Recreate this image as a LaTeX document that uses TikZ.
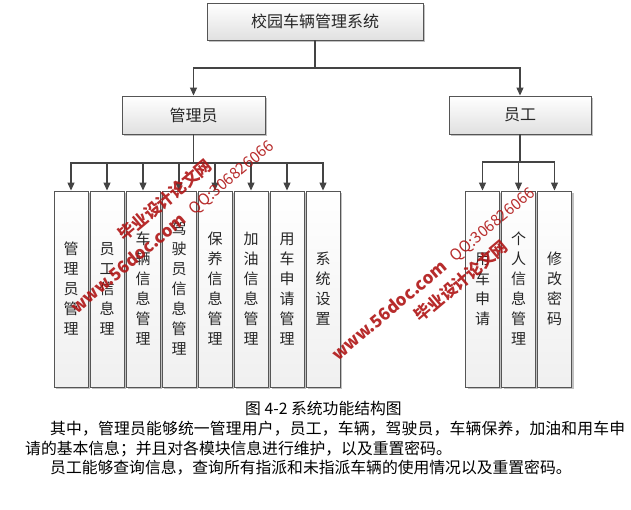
\documentclass[tikz,border=0pt]{standalone}
\usepackage{fontspec}
\setmainfont{Noto Sans CJK SC}
\usetikzlibrary{shadows,arrows.meta}
\definecolor{boxline}{HTML}{555555}
\definecolor{linecol}{HTML}{444444}
\definecolor{wmred}{RGB}{176,22,22}
\def\sprd#1{#1\sprdnext}
\def\sprdnext#1{\ifx#1\relax\else\hfil#1\expandafter\sprdnext\fi}
\tikzset{
  box/.style={draw=boxline, line width=0.9pt, top color=white, bottom color=black!12,
    drop shadow={shadow xshift=2pt, shadow yshift=-2pt, fill=black!40, opacity=0.6},
    inner sep=0pt, text=black!85},
  headbox/.style={box, minimum height=38pt, font=\fontsize{16}{16}\selectfont},
  tallbox/.style={box, top color=white, bottom color=black!6, minimum width=34pt, minimum height=196pt, align=center,
    font=\fontsize{15}{20}\selectfont},
  conn/.style={draw=linecol, line width=1.1pt},
  arr/.style={conn, -{Triangle[length=8pt,width=7pt]}},
  para/.style={anchor=base west, inner sep=0pt, font=\fontsize{15.8}{16}\selectfont, text=black},
  wm/.style={inner sep=0pt, text=wmred, text opacity=0.9, rotate=40, font=\bfseries\fontsize{16.5}{17}\selectfont}
}
\begin{document}
\begin{tikzpicture}[x=1pt,y=-1pt]
\useasboundingbox (0,0) rectangle (631,509);
\fill[white] (0,0) rectangle (631,509);

% top level
\node[headbox, minimum width=216pt, minimum height=37pt] (sys) at (315,21.5) {校园车辆管理系统};
\node[headbox, minimum width=143pt] (adm) at (193.5,115) {管理员};
\node[headbox, minimum width=142pt] (emp) at (520,115) {员工};

% administrator modules
\node[tallbox] (a1) at (71,289)  {管\\理\\员\\管\\理};
\node[tallbox] (a2) at (107,289) {员\\工\\信\\息\\理};
\node[tallbox] (a3) at (143,289) {车\\辆\\信\\息\\管\\理};
\node[tallbox] (a4) at (179,289) {驾\\驶\\员\\信\\息\\管\\理};
\node[tallbox] (a5) at (215,289) {保\\养\\信\\息\\管\\理};
\node[tallbox] (a6) at (251,289) {加\\油\\信\\息\\管\\理};
\node[tallbox] (a7) at (287,289) {用\\车\\申\\请\\管\\理};
\node[tallbox] (a8) at (323,289) {系\\统\\设\\置};

% employee modules
\node[tallbox] (e1) at (482.5,289) {用\\车\\申\\请};
\node[tallbox] (e2) at (518.5,289) {个\\人\\信\\息\\管\\理};
\node[tallbox] (e3) at (554.5,289) {修\\改\\密\\码};

% connectors
\coordinate (j0) at (315,68);
\draw[conn] (sys.south) -- (j0);
\draw[arr] (j0) -| (adm.north);
\draw[arr] (j0) -| (emp.north);

\coordinate (j1) at (193.5,163);
\draw[conn] (adm.south) -- (j1);
\foreach \n in {a1,a2,a3,a4,a5,a6,a7,a8} \draw[arr] (j1) -| (\n.north);

\coordinate (j2) at (520,162);
\draw[conn] (emp.south) -- (j2);
\foreach \n in {e1,e2,e3} \draw[arr] (j2) -| (\n.north);

% caption and text
\node[para] (cap) at (245,414) {图 4-2 系统功能结构图};
\node[para] (p1) at (50,434) {\makebox[575pt][s]{\sprd 其中，管理员能够统一管理用户，员工，车辆，驾驶员，车辆保养，加油和用车申\relax}};
\node[para] (p2) at (25,454) {请的基本信息；并且对各模块信息进行维护，以及重置密码。};
\node[para] (p3) at (50,473) {员工能够查询信息，查询所有指派和未指派车辆的使用情况以及重置密码。};

% watermarks
\node[wm] (w1) at (165,200) {毕业设计论文网};
\node[wm, font=\fontsize{15.5}{16}\selectfont] (w2) at (232,178) {QQ:306826066};
\node[wm, font=\bfseries\fontsize{17}{17}\selectfont] (w3) at (128,263) {www.56doc.com};
\node[wm, font=\bfseries\fontsize{17}{17}\selectfont] (w4) at (389,310) {www.56doc.com};
\node[wm, font=\fontsize{15.5}{16}\selectfont] (w5) at (493,225) {QQ:306826066};
\node[wm] (w6) at (461,281) {毕业设计论文网};
\end{tikzpicture}
\end{document}
